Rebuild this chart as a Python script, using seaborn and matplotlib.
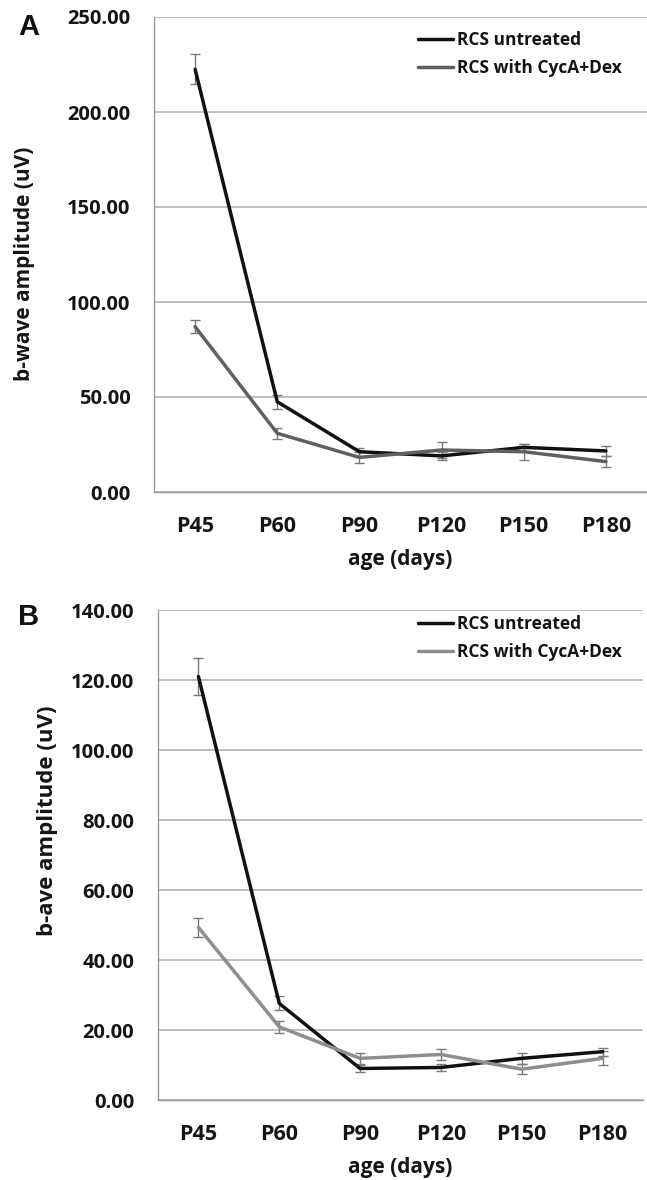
import matplotlib
matplotlib.use("Agg")
import matplotlib.pyplot as plt
from matplotlib.ticker import FixedLocator, NullFormatter
import seaborn as sns
import pandas as pd
import numpy as np

categories = ["P45", "P60", "P90", "P120", "P150", "P180"]

a_untreated = [222.5, 47.5, 21.2, 19.0, 23.5, 21.6]
a_untreated_err = [8.0, 3.7, 2.0, 2.0, 2.0, 2.5]
a_treated = [87.0, 30.9, 18.2, 22.1, 21.2, 16.0]
a_treated_err = [3.3, 3.0, 3.0, 4.4, 4.2, 3.0]

b_untreated = [121.0, 27.6, 9.0, 9.3, 11.9, 13.8]
b_untreated_err = [5.3, 2.0, 1.0, 1.0, 1.5, 1.2]
b_treated = [49.3, 20.9, 11.9, 13.0, 8.8, 11.9]
b_treated_err = [2.6, 1.7, 1.5, 1.5, 1.5, 2.0]

series_names = ["RCS untreated", "RCS with CycA+Dex"]

sns.set_theme(style="white")
plt.rcParams["font.family"] = ["Open Sans", "DejaVu Sans"]

fig = plt.figure(figsize=(6.47, 11.8), dpi=100)
H = 1180.0
W = 647.0

def make_ax(left, right, top, bottom):
    return fig.add_axes([left / W, 1 - bottom / H, (right - left) / W, (bottom - top) / H])

panels = [
    dict(box=(154, 647, 17, 492), vals=[a_untreated, a_treated], errs=[a_untreated_err, a_treated_err],
         ymax=250, step=50, ylabel="b-wave amplitude (uV)", ylab_size=15, letter="A", gray="#606060",
         ylab_x=35, ylab_y=264, xlab_y=560, leg=(418, 31), letter_pos=(18, 35)),
    dict(box=(158, 643, 610, 1100), vals=[b_untreated, b_treated], errs=[b_untreated_err, b_treated_err],
         ymax=140, step=20, ylabel="b-ave amplitude (uV)", ylab_size=16, letter="B", gray="#8e8e8e",
         ylab_x=58, ylab_y=821, xlab_y=1168, leg=(418, 615), letter_pos=(18, 625)),
]

x = np.arange(len(categories))
txtc = "#151515"
for p in panels:
    left, right, top, bottom = p["box"]
    ax = make_ax(left, right, top, bottom)
    colors = ["#111111", p["gray"]]
    for vals, errs, name, c in zip(p["vals"], p["errs"], series_names, colors):
        df = pd.DataFrame({"x": x, "y": vals})
        ax.errorbar(x, vals, yerr=errs, fmt="none", ecolor="#7a7a7a", elinewidth=1.0,
                    capsize=3.5, capthick=1.0, zorder=2)
        sns.lineplot(data=df, x="x", y="y", ax=ax, color=c, linewidth=2.5, label=name, zorder=3)
    ax.set_xlim(-0.5, len(categories) - 0.5)
    ax.set_ylim(0, p["ymax"])
    yt = np.arange(0, p["ymax"] + 0.1, p["step"])
    ax.set_yticks(yt)
    ax.set_yticklabels([f"{v:.2f}" for v in yt], fontsize=14.5, fontweight="bold", color=txtc)
    ax.set_xticks(x)
    ax.set_xticklabels(categories, fontsize=15.5, fontweight="bold", color=txtc)
    ax.xaxis.set_minor_locator(FixedLocator(np.arange(-0.5, len(categories) + 0.5, 1.0)))
    ax.xaxis.set_minor_formatter(NullFormatter())
    ax.tick_params(axis="x", which="major", length=0, pad=17)
    ax.tick_params(axis="x", which="minor", length=5, color="#9a9a9a", width=1.0, direction="out")
    ax.tick_params(axis="y", which="major", length=6, color="#9a9a9a", width=1.0, direction="out", pad=11)
    ax.grid(True, axis="y", color="#b4b4b4", linewidth=1.2)
    ax.grid(False, axis="x")
    ax.set_axisbelow(True)
    for s in ["top", "right"]:
        ax.spines[s].set_visible(False)
    for s in ["left", "bottom"]:
        ax.spines[s].set_color("#9a9a9a")
        ax.spines[s].set_linewidth(1.0)
    ax.set_xlabel("age (days)", fontsize=15, fontweight="bold", color=txtc)
    ax.xaxis.set_label_coords(0.5, (bottom - p["xlab_y"]) / (bottom - top))
    ax.xaxis.label.set_verticalalignment("center")
    ax.set_ylabel(p["ylabel"], fontsize=p["ylab_size"], fontweight="bold", color=txtc)
    ax.yaxis.set_label_coords((p["ylab_x"] - left) / (right - left), (bottom - p["ylab_y"]) / (bottom - top))
    lx, ly = p["leg"]
    leg = ax.legend(loc="upper left", bbox_to_anchor=(lx / W, 1 - ly / H), bbox_transform=fig.transFigure,
                    frameon=False, handlelength=2.0, handletextpad=0.25, labelspacing=0.6,
                    borderpad=0, borderaxespad=0, prop=dict(size=12.5, weight="bold"))
    for t in leg.get_texts():
        t.set_color(txtc)
    for l in leg.get_lines():
        l.set_linewidth(2.5)
    fx, fy = p["letter_pos"]
    fig.text(fx / W, 1 - fy / H, p["letter"], fontsize=21, fontweight="bold",
             family=["Liberation Sans", "DejaVu Sans"], va="baseline", color="#111111")

fig.savefig("out.png", dpi=100, facecolor="white")
